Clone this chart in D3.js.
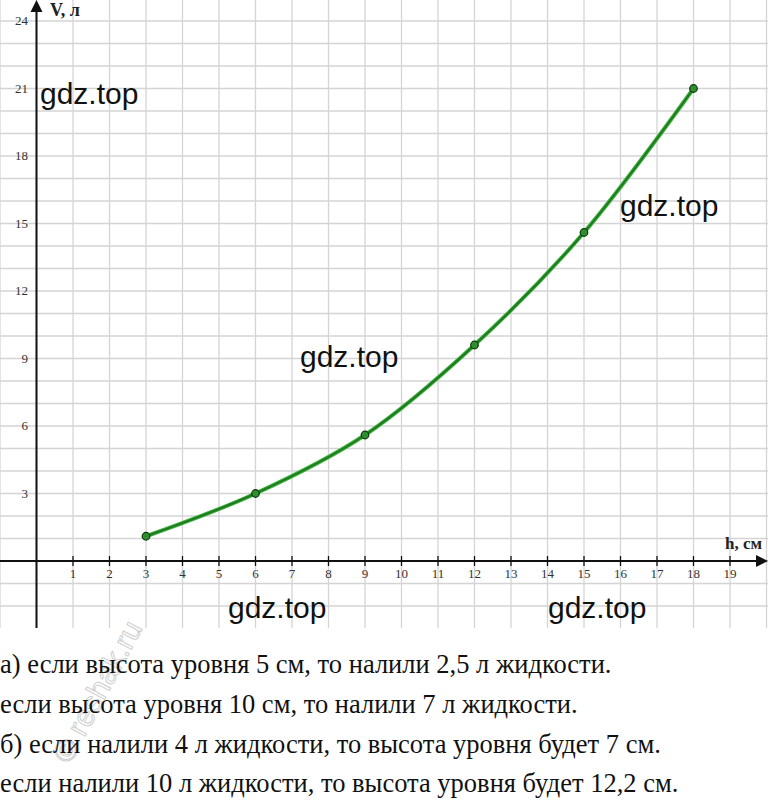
<!DOCTYPE html>
<html>
<head>
<meta charset="utf-8">
<script src="https://cdn.jsdelivr.net/npm/d3@7"></script>
<style>
  body { margin: 0; background: #fff; }
</style>
</head>
<body>
<div id="chart"></div>
<script>
// Data
const heights = [3, 6, 9, 12, 15, 18];
const volumes = [1.1, 3.0, 5.6, 9.6, 14.6, 21.0];
const xTicks = d3.range(1, 20);
const yTicks = [3, 6, 9, 12, 15, 18, 21, 24];
const watermarks = [
    {x: 40, y: 104, t: "gdz.top"},
    {x: 620, y: 216, t: "gdz.top"},
    {x: 300, y: 367, t: "gdz.top"},
    {x: 228, y: 618, t: "gdz.top"},
    {x: 548, y: 618, t: "gdz.top"}
];
const answerLines = [
    "а) если высота уровня 5 см, то налили 2,5 л жидкости.",
    "если высота уровня 10 см, то налили 7 л жидкости.",
    "б) если налили 4 л жидкости, то высота уровня будет 7 см.",
    "если налили 10 л жидкости, то высота уровня будет 12,2 см."
];

const W = 768, H = 801;
const gridBottom = 628;

const svg = d3.select("#chart")
    .append("svg")
    .attr("width", W)
    .attr("height", H);

// Scales: one cell = 1 unit
const x = d3.scaleLinear().domain([0, 20]).range([36.5, 36.5 + 20 * 36.5]);
const y = d3.scaleLinear().domain([0, 24]).range([561, 561 - 24 * 22.5]);

// Grid
const grid = svg.append("g").attr("stroke", "#d4d4d4").attr("stroke-width", 1.3);
d3.range(-1, 21).forEach(k => {
    grid.append("line")
        .attr("x1", x(k)).attr("x2", x(k))
        .attr("y1", 0).attr("y2", gridBottom);
});
d3.range(-3, 25).forEach(k => {
    if (y(k) > gridBottom) return;
    grid.append("line")
        .attr("x1", 0).attr("x2", W)
        .attr("y1", y(k)).attr("y2", y(k));
});

// Axes
svg.append("line")
    .attr("x1", 0).attr("x2", W - 8)
    .attr("y1", y(0)).attr("y2", y(0))
    .attr("stroke", "#111").attr("stroke-width", 2);
svg.append("path")
    .attr("d", `M${W},${y(0)} L${W - 12},${y(0) - 6} L${W - 12},${y(0) + 6} Z`)
    .attr("fill", "#111");

svg.append("line")
    .attr("x1", x(0)).attr("x2", x(0))
    .attr("y1", 8).attr("y2", gridBottom)
    .attr("stroke", "#111").attr("stroke-width", 2);
svg.append("path")
    .attr("d", `M${x(0)},0 L${x(0) - 6},12 L${x(0) + 6},12 Z`)
    .attr("fill", "#111");

// X ticks
xTicks.forEach(t => {
    svg.append("line")
        .attr("x1", x(t)).attr("x2", x(t))
        .attr("y1", y(0) - 5).attr("y2", y(0) + 5)
        .attr("stroke", "#111").attr("stroke-width", 1.3);
    svg.append("text")
        .attr("x", x(t)).attr("y", y(0) + 17)
        .attr("text-anchor", "middle")
        .attr("font-family", "Liberation Serif")
        .attr("font-size", 13)
        .attr("fill", "#333")
        .text(t);
});

// Y ticks
yTicks.forEach(t => {
    svg.append("text")
        .attr("x", 28).attr("y", y(t) + 4)
        .attr("text-anchor", "end")
        .attr("font-family", "Liberation Serif")
        .attr("font-size", 13)
        .attr("fill", "#333")
        .text(t);
});

// Axis labels
svg.append("text")
    .attr("x", 50).attr("y", 16)
    .attr("font-family", "Liberation Serif")
    .attr("font-weight", "bold")
    .attr("font-size", 18)
    .attr("fill", "#222")
    .text("V, л");
svg.append("text")
    .attr("x", 725).attr("y", 549)
    .attr("font-family", "Liberation Serif")
    .attr("font-weight", "bold")
    .attr("font-size", 17)
    .attr("fill", "#222")
    .text("h, см");

// Curve
const pts = heights.map((h, i) => ({h: h, v: volumes[i]}));
const line = d3.line()
    .x(d => x(d.h))
    .y(d => y(d.v))
    .curve(d3.curveCatmullRom);

svg.append("path")
    .datum(pts)
    .attr("fill", "none")
    .attr("stroke", "#3cb03c")
    .attr("stroke-width", 4)
    .attr("d", line);
svg.append("path")
    .datum(pts)
    .attr("fill", "none")
    .attr("stroke", "#1f7a1f")
    .attr("stroke-width", 2)
    .attr("d", line);

svg.selectAll(".pt")
    .data(pts)
    .enter()
    .append("circle")
    .attr("class", "pt")
    .attr("cx", d => x(d.h))
    .attr("cy", d => y(d.v))
    .attr("r", 3.8)
    .attr("fill", "#2f8f2f")
    .attr("stroke", "#0d3a0d")
    .attr("stroke-width", 1.2);

// Watermarks
watermarks.forEach(w => {
    svg.append("text")
        .attr("x", w.x).attr("y", w.y)
        .attr("font-family", "Liberation Sans")
        .attr("font-size", 30)
        .attr("fill", "#111")
        .text(w.t);
});

// faint reshak watermark
svg.append("text")
    .attr("transform", "translate(70,765) rotate(-62)")
    .attr("font-family", "Liberation Sans")
    .attr("font-size", 30)
    .attr("fill", "none")
    .attr("stroke", "#cfcfcf")
    .attr("stroke-width", 1)
    .text("© reshak.ru");

// Answer text
const baselines = [673, 713, 753, 792];
answerLines.forEach((s, i) => {
    svg.append("text")
        .attr("x", 0).attr("y", baselines[i])
        .attr("font-family", "Liberation Serif")
        .attr("font-size", 26.5)
        .attr("fill", "#111")
        .text(s);
});
</script>
</body>
</html>
